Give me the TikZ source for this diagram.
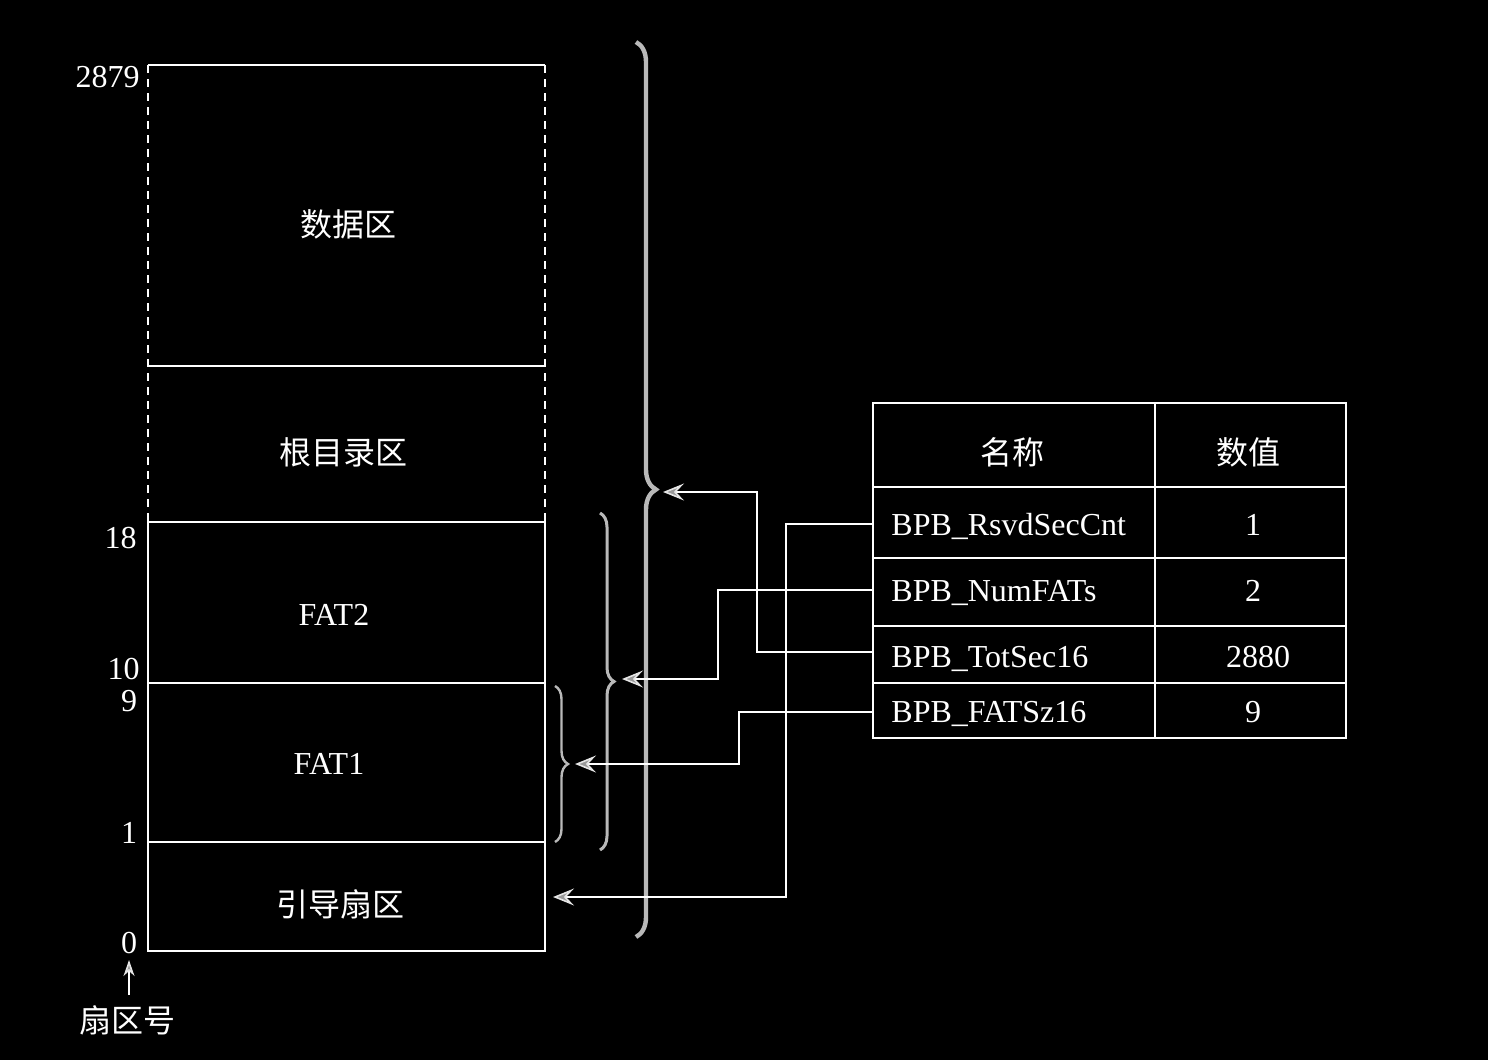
\documentclass[tikz,border=0pt]{standalone}
\usepackage{fontspec}
\setmainfont{Liberation Serif}
\newfontfamily\cjk{Noto Sans CJK SC}
\usetikzlibrary{arrows.meta,decorations.pathreplacing}
\begin{document}
\begin{tikzpicture}[x=0.5pt,y=-0.5pt,
  solidline/.style={draw=white, line width=1pt},
  dashline/.style={draw=white, line width=1pt, dash pattern=on 4pt off 3pt},
  conn/.style={draw=white, line width=1pt,
    -{Stealth[length=10.5pt,width=8.5pt,inset=4pt,color=white!80!gray,fill=gray!80!white,line width=0.8pt]}},
  uparrow/.style={draw=white, line width=0.8pt,
    -{Stealth[length=8pt,width=5.5pt,inset=2.5pt,color=white!80!gray,fill=gray!80!white]}},
  brc/.style={draw=gray!55!white, decorate},
  txt/.style={text=white, font=\fontsize{16}{19}\selectfont, inner sep=0pt},
]
\useasboundingbox (0,0) rectangle (1488,1060);
\fill[black] (0,0) rectangle (1488,1060);

% ---- sector stack ----
\draw[dashline] (148,65) -- (148,522);
\draw[dashline] (545,65) -- (545,522);
\draw[solidline] (148,65) -- (545,65);
\draw[solidline] (148,366) -- (545,366);
\draw[solidline] (148,522) rectangle (545,951);
\draw[solidline] (148,683) -- (545,683);
\draw[solidline] (148,842) -- (545,842);

\node[txt] (data) at (348,224) {\cjk 数据区};
\node[txt] (root) at (343,452) {\cjk 根目录区};
\node[txt, anchor=base] (fat2) at (334,625) {FAT2};
\node[txt, anchor=base] (fat1) at (329,774) {FAT1};
\node[txt] (boot) at (340,904) {\cjk 引导扇区};

% ---- sector numbers ----
\node[txt, anchor=base east] (n2879) at (140,87) {2879};
\node[txt, anchor=base east] (n18) at (137,548) {18};
\node[txt, anchor=base east] (n10) at (140,679) {10};
\node[txt, anchor=base] (n9) at (129,711) {9};
\node[txt, anchor=base] (n1) at (129,843) {1};
\node[txt, anchor=base] (n0) at (129,953) {0};
\node[txt] (shq) at (127,1020) {\cjk 扇区号};
\coordinate (upA) at (129,995);
\coordinate (upB) at (129,960);
\draw[uparrow] (upA) -- (upB);

% ---- braces ----
\draw[brc, line width=2.2pt, decoration={brace, amplitude=10pt}] (636,42) -- (636,937);
\draw[brc, line width=1.5pt, decoration={brace, amplitude=7pt}] (600,513) -- (600,850);
\draw[brc, line width=1.2pt, decoration={brace, amplitude=6.5pt}] (555,686) -- (555,842);
\coordinate (tipAll) at (663,492);
\coordinate (tipFats) at (622,679);
\coordinate (tipFat1) at (575,764);
\coordinate (tipBoot) at (553,897);

% ---- table ----
\draw[solidline] (873,403) rectangle (1346,738);
\draw[solidline] (1155,403) -- (1155,738);
\draw[solidline] (873,487) -- (1346,487);
\draw[solidline] (873,558) -- (1346,558);
\draw[solidline] (873,626) -- (1346,626);
\draw[solidline] (873,683) -- (1346,683);

\node[txt] (hname) at (1012,452) {\cjk 名称};
\node[txt] (hval) at (1248,452) {\cjk 数值};
\node[txt, anchor=base west] (r1) at (891,535) {BPB\_RsvdSecCnt};
\node[txt, anchor=base west] (r2) at (891,601) {BPB\_NumFATs};
\node[txt, anchor=base west] (r3) at (891,667) {BPB\_TotSec16};
\node[txt, anchor=base west] (r4) at (891,722) {BPB\_FATSz16};
\node[txt, anchor=base] (v1) at (1253,535) {1};
\node[txt, anchor=base] (v2) at (1253,601) {2};
\node[txt, anchor=base] (v3) at (1258,667) {2880};
\node[txt, anchor=base] (v4) at (1253,722) {9};

\coordinate (p1) at (873,524);
\coordinate (p2) at (873,590);
\coordinate (p3) at (873,652);
\coordinate (p4) at (873,712);

% ---- connectors ----
\draw[conn] (p1) -- (786,524) -- (786,897) -- (tipBoot);
\draw[conn] (p2) -- (718,590) -- (718,679) -- (tipFats);
\draw[conn] (p3) -- (757,652) -- (757,492) -- (tipAll);
\draw[conn] (p4) -- (739,712) -- (739,764) -- (tipFat1);
\end{tikzpicture}
\end{document}
